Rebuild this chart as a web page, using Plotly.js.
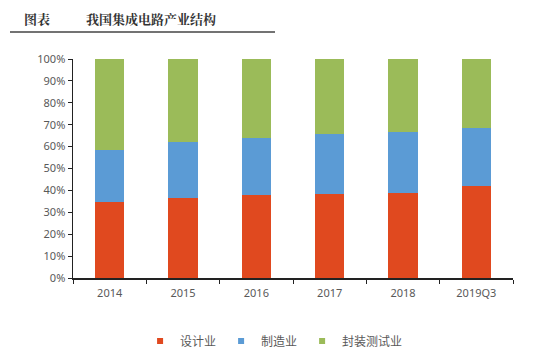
<!DOCTYPE html>
<html><head><meta charset="utf-8">
<script src="https://cdn.plot.ly/plotly-3.0.1.min.js"></script>
<style>body{margin:0;background:#fff}#c{width:550px;height:357px}</style>
</head><body><div id="c"></div>
<script>
const categories = ['2014','2015','2016','2017','2018','2019Q3'];
const design = [34.7, 36.7, 37.9, 38.3, 38.6, 41.8];
const manufacturing = [23.7, 25.3, 26.2, 27.3, 28.1, 26.7];
const packaging = categories.map((_, i) => 100 - design[i] - manufacturing[i]);
const seriesNames = ['设计业', '制造业', '封装测试业'];
const colors = ['#E0491F', '#5B9BD5', '#9BBB59'];
const yTicks = [0,10,20,30,40,50,60,70,80,90,100];

const series = [design, manufacturing, packaging];
const traces = series.map((vals, i) => ({
  type: 'bar', x: categories, y: vals, name: seriesNames[i],
  marker: {color: colors[i]}, width: 0.4, hoverinfo: 'none', showlegend: false
}));
// small square legend markers
seriesNames.forEach((n, i) => traces.push({
  type: 'scatter', mode: 'markers', x: [null], y: [null], name: n,
  marker: {symbol: 'square', size: 6, color: colors[i]}, showlegend: true
}));

const layout = {
  width: 550, height: 357, barmode: 'stack',
  paper_bgcolor: '#fff', plot_bgcolor: '#fff',
  margin: {l: 73, r: 37, t: 59, b: 79, autoexpand: false},
  font: {family: 'Noto Sans CJK SC, sans-serif', color: '#595959', size: 11},
  xaxis: {
    type: 'category', range: [-0.5, 5.5], showline: true, linecolor: '#222', linewidth: 1.5,
    ticks: 'outside', tickson: 'boundaries', ticklen: 4, tickcolor: '#222',
    ticklabelstandoff: 4,
    tickfont: {family: 'Noto Sans, sans-serif', size: 11, color: '#595959'},
    showgrid: false, zeroline: false
  },
  yaxis: {
    range: [0, 100], tickvals: yTicks, ticktext: yTicks.map(v => v + '%'),
    showline: true, linecolor: '#222', linewidth: 1.5,
    ticks: 'outside', ticklen: 4, tickcolor: '#222',
    tickfont: {family: 'Noto Sans, sans-serif', size: 11, color: '#595959'},
    showgrid: false, zeroline: false
  },
  showlegend: true,
  legend: {orientation: 'h', x: 0.457, xanchor: 'center', y: -0.288, yanchor: 'middle',
    font: {family: 'Noto Sans CJK SC, sans-serif', size: 12, color: '#595959'},
    itemwidth: 30, tracegroupgap: 0, traceorder: 'normal'},
  annotations: [
    {text: '<b>图表</b>', xref: 'paper', yref: 'paper', x: -73/440, xanchor: 'left', y: 1 + (59-18)/219, yanchor: 'middle', xshift: 22, showarrow: false,
     font: {family: 'Noto Serif CJK SC, Noto Sans CJK SC, serif', size: 13, color: '#333'}},
    {text: '<b>我国集成电路产业结构</b>', xref: 'paper', yref: 'paper', x: -73/440, xanchor: 'left', y: 1 + (59-18)/219, yanchor: 'middle', xshift: 84, showarrow: false,
     font: {family: 'Noto Serif CJK SC, Noto Sans CJK SC, serif', size: 13, color: '#333'}}
  ],
  shapes: [
    {type: 'line', xref: 'paper', yref: 'paper', x0: -63/440, x1: 202/440, y0: 1 + (59-32)/219, y1: 1 + (59-32)/219,
     line: {color: '#444', width: 1.5}}
  ]
};
Plotly.newPlot('c', traces, layout, {staticPlot: true});
</script></body></html>
